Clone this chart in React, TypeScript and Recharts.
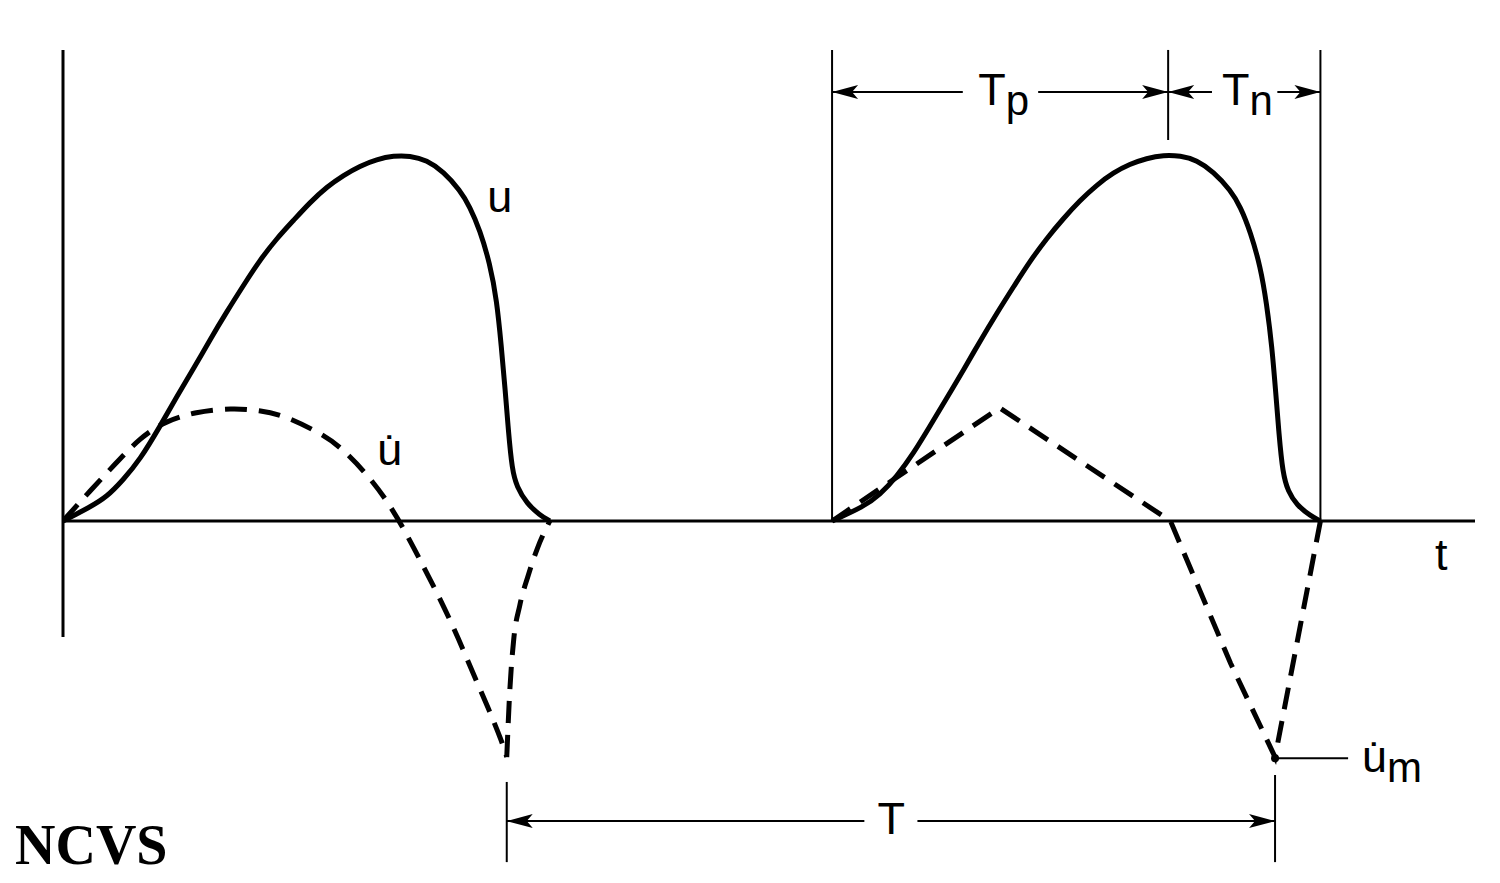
import React from 'react'
import { LineChart, Line, XAxis, YAxis, ReferenceLine, ReferenceDot } from 'recharts'

// time axis: one period of the glottal cycle = 10 units
const uTime1 = [0, 0.35, 0.57, 0.78, 1.0, 1.26, 1.48, 1.7, 1.91, 2.13, 2.35, 2.56, 2.78, 3.0, 3.21, 3.43, 3.65, 3.86, 4.08, 4.3, 4.51, 4.73, 4.95, 5.16, 5.29, 5.42, 5.55, 5.64, 5.7, 5.75, 5.79, 5.84, 5.9, 6.03, 6.2, 6.33]
const uValue1 = [0, 0.038, 0.066, 0.112, 0.167, 0.258, 0.34, 0.417, 0.495, 0.572, 0.645, 0.713, 0.772, 0.822, 0.87, 0.913, 0.945, 0.97, 0.988, 0.998, 0.998, 0.986, 0.954, 0.904, 0.859, 0.795, 0.704, 0.604, 0.476, 0.358, 0.249, 0.139, 0.094, 0.048, 0.016, 0]

const uTime2 = [10.0, 10.41, 10.62, 10.84, 11.06, 11.27, 11.49, 11.71, 11.92, 12.14, 12.36, 12.57, 12.79, 13.01, 13.22, 13.44, 13.66, 13.87, 14.09, 14.31, 14.53, 14.74, 14.96, 15.18, 15.31, 15.44, 15.57, 15.65, 15.72, 15.77, 15.81, 15.86, 15.93, 16.04, 16.22, 16.35]
const uValue2 = [0, 0.039, 0.071, 0.121, 0.185, 0.258, 0.335, 0.413, 0.49, 0.567, 0.64, 0.709, 0.772, 0.827, 0.875, 0.918, 0.952, 0.975, 0.991, 1.0, 0.998, 0.986, 0.954, 0.904, 0.859, 0.79, 0.695, 0.595, 0.476, 0.349, 0.24, 0.13, 0.08, 0.044, 0.014, 0]

// derivative (flow), first cycle: falling part and the return to zero
const duTimeFall1 = [0, 0.35, 0.68, 1.0, 1.33, 1.72, 2.2, 2.56, 2.86, 3.32, 3.58, 3.93, 4.23, 4.49, 4.71, 4.93, 5.14, 5.33, 5.53, 5.71, 5.77]
const duValueFall1 = [0, 0.082, 0.156, 0.227, 0.273, 0.298, 0.309, 0.302, 0.29, 0.243, 0.208, 0.134, 0.052, -0.044, -0.134, -0.224, -0.32, -0.415, -0.511, -0.604, -0.645]
const duTimeRise1 = [5.77, 5.81, 5.86, 5.94, 6.05, 6.17, 6.33]
const duValueRise1 = [-0.645, -0.462, -0.325, -0.23, -0.148, -0.074, 0]

// derivative, second cycle (piecewise linear)
const duTime2 = [10.0, 12.18, 14.4, 15.18, 15.76, 16.35]
const duValue2 = [0, 0.309, 0, -0.388, -0.645, 0]

// annotation positions (same units as the data)
const cycleStart = 10.0
const tpEnd = 14.37
const cycleEnd = 16.35
const periodStart = 5.77
const periodEnd = 15.76
const dimTop = 1.287
const dimArrowY = 1.172
const tpTickBottom = 1.041
const periodTop = -0.713
const periodBottom = -0.932
const periodArrowY = -0.82
const peakDu = -0.648

const FONT = "'Liberation Sans', Arial, Helvetica, sans-serif"
const zip = (ts: number[], vs: number[]) => ts.map((t, i) => ({ t, v: vs[i] }))

// tip at (cx, cy); dir 1 = pointing left, -1 = pointing right
const arrow = (dir: number) => (p: any) => {
  const { cx, cy } = p
  const d = `M${cx},${cy} L${cx + dir * 26},${cy - 7} L${cx + dir * 20},${cy} L${cx + dir * 26},${cy + 7} Z`
  return <path d={d} fill="#000" />
}

const label = (content: React.ReactNode, anchor: string = 'middle', size = 45) => (p: any) => (
  <text x={p.cx} y={p.cy} textAnchor={anchor} fontFamily={FONT} fontSize={size} fill="#000">
    {content}
  </text>
)

const logo = (p: any) => (
  <text x={p.cx} y={p.cy} fontFamily="'Liberation Serif', 'Times New Roman', serif" fontWeight="bold" fontSize={56} fill="#000">
    NCVS
  </text>
)

export default function App() {
  const thin = { stroke: '#000', strokeWidth: 2 }
  const curve = { stroke: '#000', strokeWidth: 5, dot: false, activeDot: false, isAnimationActive: false }
  return (
    <div style={{ position: 'absolute', left: 0, top: 0, background: '#fff' }}>
      <LineChart width={1500} height={883} margin={{ top: 8.6, right: 25, bottom: 14.3, left: 63 }}>
        <XAxis type="number" dataKey="t" domain={[0, 18.36]} hide allowDataOverflow />
        <YAxis type="number" domain={[-0.95, 1.4]} hide allowDataOverflow />

        <ReferenceLine y={0} stroke="#000" strokeWidth={3} />
        <ReferenceLine segment={[{ x: 0, y: dimTop }, { x: 0, y: -0.317 }]} stroke="#000" strokeWidth={3} />

        {/* Tp / Tn dimension */}
        <ReferenceLine segment={[{ x: cycleStart, y: dimTop }, { x: cycleStart, y: 0 }]} {...thin} />
        <ReferenceLine segment={[{ x: cycleEnd, y: dimTop }, { x: cycleEnd, y: 0 }]} {...thin} />
        <ReferenceLine segment={[{ x: tpEnd, y: dimTop }, { x: tpEnd, y: tpTickBottom }]} {...thin} />
        <ReferenceLine segment={[{ x: cycleStart, y: dimArrowY }, { x: 11.7, y: dimArrowY }]} {...thin} />
        <ReferenceLine segment={[{ x: 12.68, y: dimArrowY }, { x: tpEnd, y: dimArrowY }]} {...thin} />
        <ReferenceLine segment={[{ x: tpEnd, y: dimArrowY }, { x: 14.94, y: dimArrowY }]} {...thin} />
        <ReferenceLine segment={[{ x: 15.79, y: dimArrowY }, { x: cycleEnd, y: dimArrowY }]} {...thin} />
        <ReferenceDot x={cycleStart} y={dimArrowY} shape={arrow(1)} />
        <ReferenceDot x={tpEnd} y={dimArrowY} shape={arrow(-1)} />
        <ReferenceDot x={tpEnd} y={dimArrowY} shape={arrow(1)} />
        <ReferenceDot x={cycleEnd} y={dimArrowY} shape={arrow(-1)} />

        {/* T dimension */}
        <ReferenceLine segment={[{ x: periodStart, y: periodTop }, { x: periodStart, y: periodBottom }]} {...thin} />
        <ReferenceLine segment={[{ x: periodEnd, y: -0.694 }, { x: periodEnd, y: periodBottom }]} {...thin} />
        <ReferenceLine segment={[{ x: periodStart, y: periodArrowY }, { x: 10.42, y: periodArrowY }]} {...thin} />
        <ReferenceLine segment={[{ x: 11.11, y: periodArrowY }, { x: periodEnd, y: periodArrowY }]} {...thin} />
        <ReferenceDot x={periodStart} y={periodArrowY} shape={arrow(1)} />
        <ReferenceDot x={periodEnd} y={periodArrowY} shape={arrow(-1)} />

        {/* u-dot max marker */}
        <ReferenceLine segment={[{ x: periodEnd, y: peakDu }, { x: 16.71, y: peakDu }]} {...thin} />
        <ReferenceDot x={periodEnd} y={peakDu} r={4} fill="#000" stroke="none" />

        <Line data={zip(uTime1, uValue1)} dataKey="v" type="basis" {...curve} />
        <Line data={zip(uTime2, uValue2)} dataKey="v" type="basis" {...curve} />
        <Line data={zip(duTimeFall1, duValueFall1)} dataKey="v" type="basis" strokeDasharray="22 12" {...curve} />
        <Line data={zip(duTimeRise1, duValueRise1)} dataKey="v" type="monotone" strokeDasharray="22 12" {...curve} />
        <Line data={zip(duTime2, duValue2)} dataKey="v" type="linear" strokeDasharray="22 12" {...curve} />

        {/* labels */}
        <ReferenceDot x={5.68} y={0.844} shape={label('u')} />
        <ReferenceDot x={4.25} y={0.153} shape={label('u\u0307')} />
        <ReferenceDot x={17.92} y={-0.134} shape={label('t')} />
        <ReferenceDot x={11.9} y={1.137} shape={label(<><tspan>T</tspan><tspan dy={10} fontSize={42}>p</tspan></>, 'start')} />
        <ReferenceDot x={15.07} y={1.137} shape={label(<><tspan>T</tspan><tspan dy={10} fontSize={42}>n</tspan></>, 'start')} />
        <ReferenceDot x={10.77} y={-0.855} shape={label('T')} />
        <ReferenceDot x={16.89} y={-0.686} shape={label(<><tspan>u{'\u0307'}</tspan><tspan dy={10} fontSize={42}>m</tspan></>, 'start')} />
        <ReferenceDot x={-0.624} y={-0.937} ifOverflow="visible" shape={logo} />
      </LineChart>
    </div>
  )
}
